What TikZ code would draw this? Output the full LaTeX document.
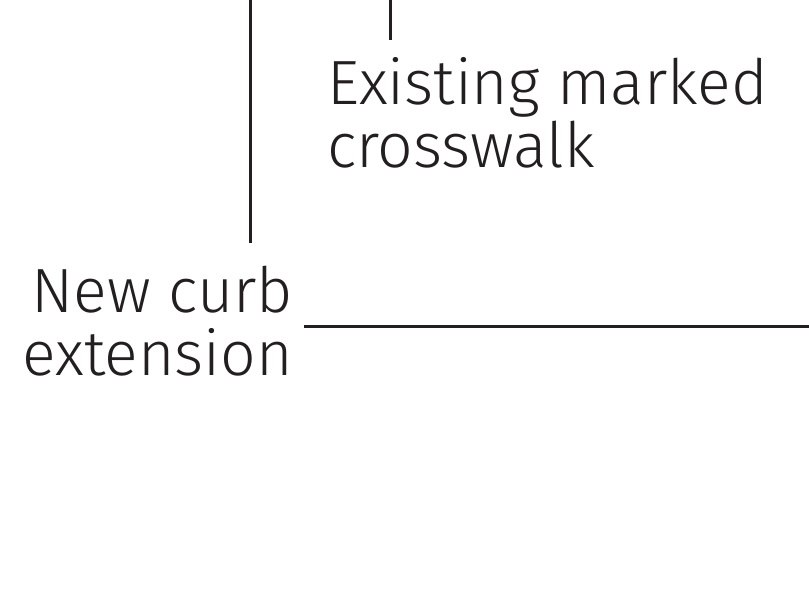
\documentclass[tikz,border=0pt]{standalone}
\usepackage{fontspec}
\setmainfont{Fira Sans}[UprightFont=* Light]
\definecolor{ink}{HTML}{231F20}
\begin{document}
\begin{tikzpicture}[x=1pt,y=-1pt,
  leader/.style={draw=ink,line width=3pt},
  lbl/.style={text=ink,inner sep=0pt,font=\fontsize{62.5}{63}\selectfont}]
\useasboundingbox[fill=white] (0,0) rectangle (809,601);
\coordinate (v1top) at (250,0);
\coordinate (v1bot) at (250,243);
\coordinate (v2top) at (390,0);
\coordinate (v2bot) at (390,40);
\coordinate (hl) at (304,327);
\coordinate (hr) at (809,327);
\draw[leader] (v1top) -- (v1bot);
\draw[leader] (v2top) -- (v2bot);
\draw[leader] (hl) -- (hr);
\node[lbl,anchor=base west,align=left] (cross) at (327,168) {Existing marked\\crosswalk};
\node[lbl,anchor=base east,align=right] (curb) at (293,376) {New curb\\extension};
\end{tikzpicture}
\end{document}
